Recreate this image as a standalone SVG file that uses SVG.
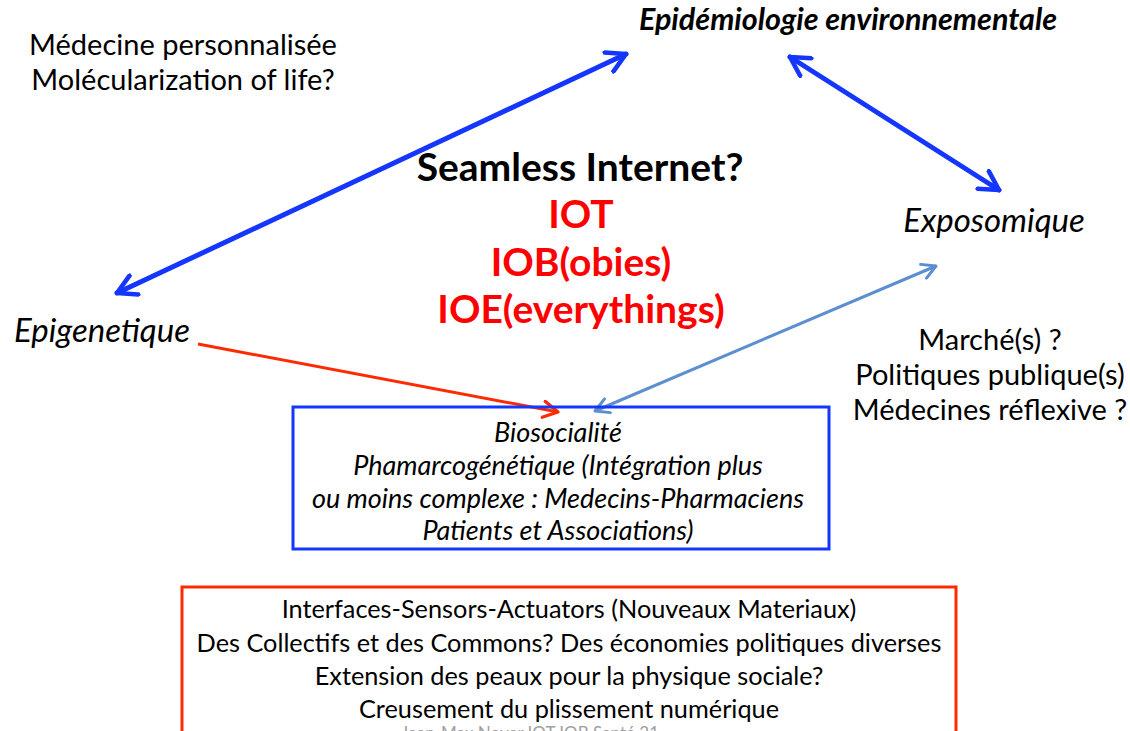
<svg xmlns="http://www.w3.org/2000/svg" width="1130" height="731" viewBox="0 0 1130 731">
<defs>
<style>
.t{font-family:Lato,"Open Sans","Liberation Sans",sans-serif;fill:#000;text-anchor:middle}
.i{font-style:italic}
.b{font-weight:bold}
.red{fill:#ff0000}
.big{font-size:39px}
.ctr{font-size:29px}
.ep{font-size:30.5px}
.ex{font-size:33px}
.bx{font-size:27px}
.bx2{font-size:25.3px}
.blue{stroke:#1436ff;stroke-width:5;fill:none;stroke-linecap:round}
</style>
<marker id="hb" viewBox="0 0 12 12" refX="10" refY="6" markerWidth="5" markerHeight="5" orient="auto-start-reverse" markerUnits="strokeWidth">
<path d="M1,1 L10,6 L1,11" fill="none" stroke="#1436ff" stroke-width="2.2" stroke-linecap="round" stroke-linejoin="round"/>
</marker>
<marker id="hl" viewBox="0 0 12 12" refX="10" refY="6" markerWidth="6" markerHeight="6" orient="auto-start-reverse" markerUnits="strokeWidth">
<path d="M1,1 L10,6 L1,11" fill="none" stroke="#5b8fd0" stroke-width="2" stroke-linecap="round" stroke-linejoin="round"/>
</marker>
<marker id="hr" viewBox="0 0 12 12" refX="10" refY="6" markerWidth="6.5" markerHeight="6.5" orient="auto" markerUnits="strokeWidth">
<path d="M1,1 L10,6 L1,11" fill="none" stroke="#ff2a00" stroke-width="2" stroke-linecap="round" stroke-linejoin="round"/>
</marker>
</defs>
<rect width="1130" height="731" fill="#fff"/>
<g id="connectors">
<line class="blue" x1="117" y1="293" x2="626" y2="54" marker-start="url(#hb)" marker-end="url(#hb)"/>
<line class="blue" x1="790" y1="57" x2="999" y2="190" marker-start="url(#hb)" marker-end="url(#hb)"/>
<line x1="936" y1="266" x2="595" y2="411" stroke="#5b8fd0" stroke-width="3" marker-start="url(#hl)" marker-end="url(#hl)"/>
<line x1="198" y1="344" x2="558" y2="412" stroke="#ff2a00" stroke-width="3" marker-end="url(#hr)"/>
</g>
<g id="medecine">
<text class="t ctr" x="183" y="55">Médecine personnalisée</text>
<text class="t ctr" x="183" y="90">Molécularization of life?</text>
</g>
<g id="epidemiologie">
<text class="t ep i b" x="848" y="30">Epidémiologie environnementale</text>
</g>
<g id="seamless">
<text class="t big b" x="580" y="181">Seamless Internet?</text>
<text class="t big b red" x="581" y="228">IOT</text>
<text class="t big b red" x="581" y="276">IOB(obies)</text>
<text class="t big b red" x="581" y="323">IOE(everythings)</text>
</g>
<g id="exposomique">
<text class="t i ex" x="994" y="232">Exposomique</text>
</g>
<g id="epigenetique">
<text class="t i ex" x="102" y="342">Epigenetique</text>
</g>
<g id="marches">
<text class="t ctr" x="990" y="350">Marché(s) ?</text>
<text class="t ctr" x="990" y="385">Politiques publique(s)</text>
<text class="t ctr" x="990" y="420">Médecines réflexive ?</text>
</g>
<g id="biosocialite">
<rect x="293" y="407" width="536" height="142" fill="none" stroke="#1436ff" stroke-width="3"/>
<text class="t i bx" x="558" y="442">Biosocialité</text>
<text class="t i bx" x="558" y="475">Phamarcogénétique (Intégration plus</text>
<text class="t i bx" x="558" y="508">ou moins complexe : Medecins-Pharmaciens</text>
<text class="t i bx" x="558" y="540">Patients et Associations)</text>
</g>
<g id="interfaces">
<rect x="182" y="587" width="774" height="150" fill="none" stroke="#ff2a00" stroke-width="3"/>
<text class="t bx2" x="569" y="618">Interfaces-Sensors-Actuators (Nouveaux Materiaux)</text>
<text class="t bx2" x="569" y="652">Des Collectifs et des Commons? Des économies politiques diverses</text>
<text class="t bx2" x="569" y="685">Extension des peaux pour la physique sociale?</text>
<text class="t bx2" x="569" y="718">Creusement du plissement numérique</text>
<text class="t" style="font-size:17px;fill:#a0a0a0" x="530" y="739">Jean-Max Noyer IOT IOB Santé 21</text>
</g>
</svg>
